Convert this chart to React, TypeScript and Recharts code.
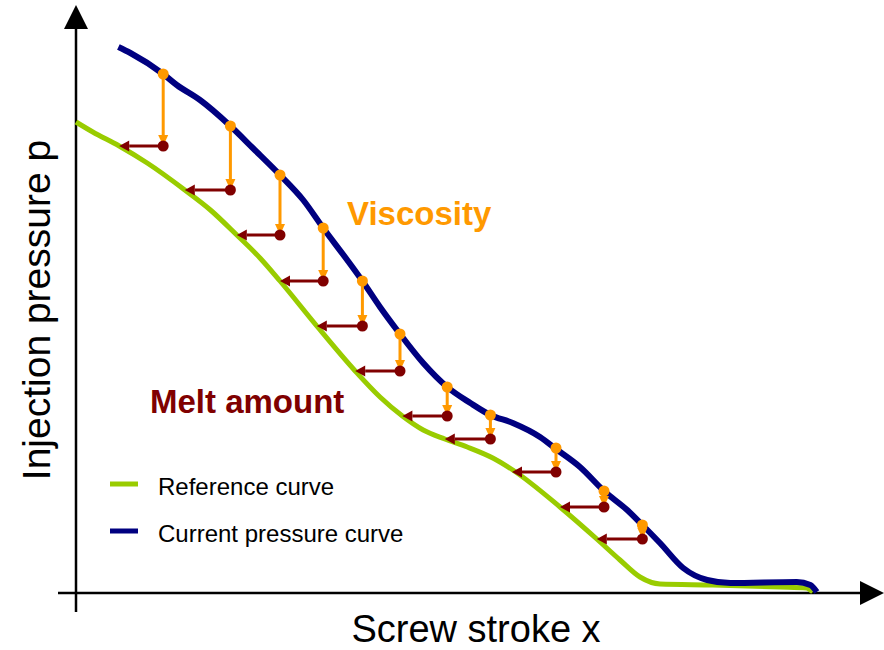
import React from 'react';
import { LineChart, Line, XAxis, YAxis, ReferenceLine } from 'recharts';

// screw stroke (0..100) vs injection pressure (0..~110)
const refStroke = [0, 2.1, 5.4, 8.9, 13.6, 16.8, 20.1, 23.0, 25.5, 30.1, 34.9, 38.0, 40.8, 43.4, 46.1, 48.9, 52.1, 54.6, 60.5, 65.1, 68.0, 70.5, 73.0, 79.6, 88.0, 91.3, 92.1];
const refPressure = [94.2, 92.2, 89.4, 86.0, 80.6, 76.6, 71.6, 67.0, 62.4, 53.4, 44.4, 39.2, 35.4, 32.6, 30.8, 29.2, 27.0, 24.6, 17.2, 10.8, 6.6, 3.2, 1.8, 1.6, 1.2, 1.0, 0.2];

const curStroke = [5.3, 6.8, 10.9, 12.6, 15.5, 19.3, 22.1, 25.5, 28.4, 30.9, 33.9, 35.8, 38.0, 40.5, 43.4, 46.4, 49.3, 51.8, 54.6, 58.0, 60.0, 63.0, 66.0, 68.9, 70.8, 73.0, 75.9, 78.9, 81.8, 90.1, 91.8, 92.6];
const curPressure = [109.2, 108.0, 103.8, 101.6, 98.6, 93.4, 89.0, 83.6, 78.6, 73.0, 66.6, 62.4, 57.2, 51.8, 46.0, 41.2, 38.0, 35.6, 34.0, 31.2, 28.8, 25.2, 20.4, 16.6, 13.6, 10.0, 5.0, 2.6, 2.0, 2.2, 1.6, 0.2];

// viscosity arrows (down) and melt amount arrows (left)
const arrowStroke = [10.9, 19.3, 25.5, 30.9, 35.8, 40.5, 46.4, 51.8, 60.0, 66.0, 70.8];
const viscosityTop = [103.8, 93.4, 83.6, 73.0, 62.4, 51.8, 41.2, 35.6, 29.0, 20.4, 13.6];
const meltLevel = [89.4, 80.6, 71.6, 62.4, 53.4, 44.4, 35.4, 30.8, 24.2, 17.2, 10.8];
const meltEnd = [5.4, 13.6, 20.1, 25.5, 30.1, 34.9, 40.8, 46.1, 54.5, 60.5, 65.1];

const legendNames = ['Reference curve', 'Current pressure curve'];
const legendColors = ['#99CC00', '#000080'];

const GREEN = '#99CC00';
const BLUE = '#000080';
const ORANGE = '#FF9900';
const DARKRED = '#800000';
const FONT = '"Liberation Sans", Arial, sans-serif';

const refData = refStroke.map((x, i) => ({ x, p: refPressure[i] }));
const curData = curStroke.map((x, i) => ({ x, p: curPressure[i] }));

const arrowShape = (color: string, width: number, head: number, half: number, dot: number) => (props: any) => {
  const { x1, y1, x2, y2 } = props;
  const dx = x2 - x1;
  const dy = y2 - y1;
  const len = Math.sqrt(dx * dx + dy * dy) || 1;
  const ux = dx / len;
  const uy = dy / len;
  const bx = x2 - ux * head;
  const by = y2 - uy * head;
  const pts = `${x2},${y2} ${bx - uy * half},${by + ux * half} ${bx + uy * half},${by - ux * half}`;
  return (
    <g>
      <line x1={x1} y1={y1} x2={bx} y2={by} stroke={color} strokeWidth={width} />
      <polygon points={pts} fill={color} />
      {dot > 0 && <circle cx={x1} cy={y1} r={dot} fill={color} />}
    </g>
  );
};

const axisArrow = arrowShape('#000', 2.5, 24, 12, 0);
const viscArrow = arrowShape(ORANGE, 3, 11, 5, 5.5);
const meltArrow = arrowShape(DARKRED, 3, 10, 5.5, 5.5);

export default function App() {
  return (
    <div style={{ position: 'absolute', left: 0, top: 0, width: 884, height: 650, background: '#fff' }}>
      <LineChart width={884} height={650} margin={{ top: 0, right: 0, bottom: 0, left: 0 }}>
        <XAxis type="number" dataKey="x" domain={[-9.5, 101]} allowDataOverflow hide />
        <YAxis type="number" dataKey="p" domain={[-11.4, 118.6]} allowDataOverflow hide />
        <ReferenceLine segment={[{ x: 0, y: -3.8 }, { x: 0, y: 117.6 }]} shape={axisArrow} />
        <ReferenceLine segment={[{ x: -2.25, y: 0 }, { x: 101, y: 0 }]} shape={axisArrow} />
        <Line data={refData} dataKey="p" type="monotone" stroke={GREEN} strokeWidth={5} strokeLinejoin="round" dot={false} activeDot={false} isAnimationActive={false} />
        <Line data={curData} dataKey="p" type="monotone" stroke={BLUE} strokeWidth={6} strokeLinejoin="round" dot={false} activeDot={false} isAnimationActive={false} />
        {arrowStroke.map((x, i) => (
          <ReferenceLine key={`v${i}`} segment={[{ x, y: viscosityTop[i] }, { x, y: meltLevel[i] }]} shape={viscArrow} />
        ))}
        {arrowStroke.map((x, i) => (
          <ReferenceLine key={`m${i}`} segment={[{ x, y: meltLevel[i] }, { x: meltEnd[i], y: meltLevel[i] }]} shape={meltArrow} />
        ))}
      </LineChart>
      <svg width={884} height={650} style={{ position: 'absolute', left: 0, top: 0, pointerEvents: 'none' }} fontFamily={FONT}>
        <text transform="translate(50,310) rotate(-90)" textAnchor="middle" fontSize={39} fill="#000">Injection pressure p</text>
        <text x={476} y={642} textAnchor="middle" fontSize={38} fill="#000">Screw stroke x</text>
        <text x={347} y={225} fontSize={33} fontWeight="bold" fill={ORANGE}>Viscosity</text>
        <text x={150} y={413} fontSize={33} fontWeight="bold" fill={DARKRED}>Melt amount</text>
        {legendNames.map((name, i) => (
          <g key={name} transform={`translate(110,${484 + i * 47})`}>
            <line x1={0} y1={0} x2={28} y2={0} stroke={legendColors[i]} strokeWidth={5} />
            <text x={48} y={11} fontSize={24} fill="#000">{name}</text>
          </g>
        ))}
      </svg>
    </div>
  );
}
